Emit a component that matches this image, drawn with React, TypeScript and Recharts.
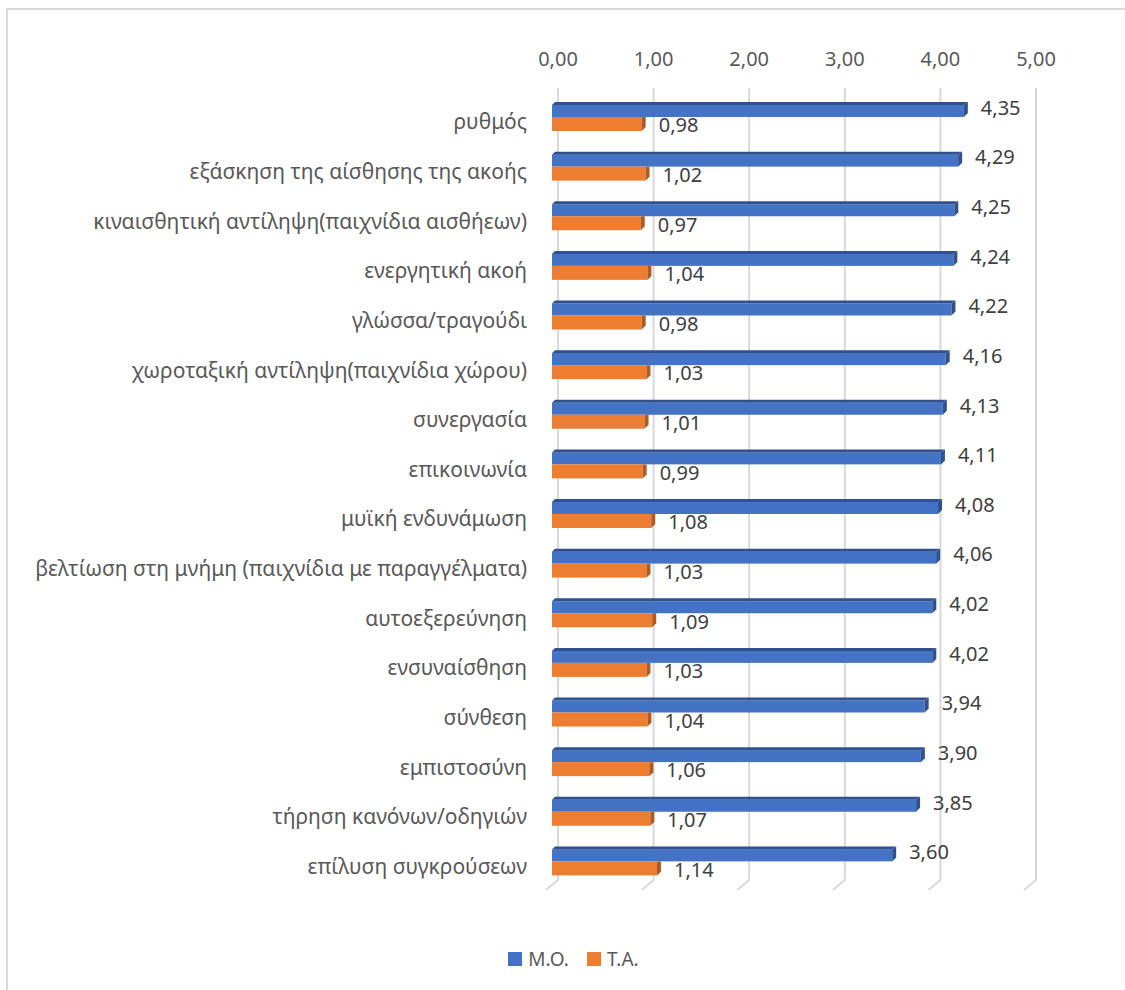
import { BarChart, Bar, XAxis, YAxis, CartesianGrid, Legend, LabelList } from "recharts";

const categories = [
  "ρυθμός",
  "εξάσκηση της αίσθησης της ακοής",
  "κιναισθητική αντίληψη(παιχνίδια αισθήεων)",
  "ενεργητική ακοή",
  "γλώσσα/τραγούδι",
  "χωροταξική αντίληψη(παιχνίδια χώρου)",
  "συνεργασία",
  "επικοινωνία",
  "μυϊκή ενδυνάμωση",
  "βελτίωση στη μνήμη (παιχνίδια με παραγγέλματα)",
  "αυτοεξερεύνηση",
  "ενσυναίσθηση",
  "σύνθεση",
  "εμπιστοσύνη",
  "τήρηση κανόνων/οδηγιών",
  "επίλυση συγκρούσεων",
];

const meanValues = [4.35, 4.29, 4.25, 4.24, 4.22, 4.16, 4.13, 4.11, 4.08, 4.06, 4.02, 4.02, 3.94, 3.9, 3.85, 3.6];
const sdValues = [0.98, 1.02, 0.97, 1.04, 0.98, 1.03, 1.01, 0.99, 1.08, 1.03, 1.09, 1.03, 1.04, 1.06, 1.07, 1.14];
const xTicks = [0, 1, 2, 3, 4, 5];

const data = categories.map((name, i) => ({ name, mo: meanValues[i], ta: sdValues[i] }));

const FONT = "'Noto Sans', sans-serif";
const fmt = (v: number) => v.toFixed(2).replace(".", ",");

function Box3D(props: any) {
  const { x, y, width, height, fill, side, top } = props;
  if (width <= 0) return null;
  const d = 4;
  const t = top ? 3 : 0;
  return (
    <g>
      <rect x={x} y={y + t} width={width - d} height={height - t} fill={fill} />
      {top && (
        <polygon
          points={`${x},${y + t} ${x + t},${y} ${x + width},${y} ${x + width - d},${y + t}`}
          fill={side}
        />
      )}
      <polygon
        points={`${x + width - d},${y + t} ${x + width},${y} ${x + width},${y + height - d} ${x + width - d},${y + height}`}
        fill={side}
      />
    </g>
  );
}

const valueLabel = (dy: number) => (props: any) => {
  const { x, y, width, height, value } = props;
  return (
    <text
      x={x + width + 13}
      y={y + height / 2 + dy}
      dominantBaseline="middle"
      fontFamily={FONT}
      fontSize={20}
      fill="#404040"
    >
      {fmt(value)}
    </text>
  );
};

function CategoryTick(props: any) {
  const { x, y, payload } = props;
  return (
    <text x={x} y={y + 7} textAnchor="end" dominantBaseline="middle" fontFamily={FONT} fontSize={21} fill="#595959">
      {payload.value}
    </text>
  );
}

function ValueTick(props: any) {
  const { x, y, payload } = props;
  return (
    <text x={x + 6} y={y} textAnchor="middle" fontFamily={FONT} fontSize={20} fill="#595959">
      {fmt(payload.value)}
    </text>
  );
}

function GridLine(props: any) {
  const { x1, y1, y2 } = props;
  const x = x1 + 6;
  return (
    <polyline
      points={`${x},${y1 - 4} ${x},${y2 - 6} ${x - 12},${y2 + 4}`}
      fill="none"
      stroke="#d9d9d9"
      strokeWidth={2}
    />
  );
}

function LegendContent() {
  const items = [
    { label: "M.O.", color: "#4472C4" },
    { label: "T.A.", color: "#ED7D31" },
  ];
  return (
    <div style={{ display: "flex", justifyContent: "center", gap: 18, fontFamily: FONT, fontSize: 19, color: "#595959", paddingLeft: 22 }}>
      {items.map((it) => (
        <div key={it.label} style={{ display: "flex", alignItems: "center", gap: 6 }}>
          <span style={{ display: "inline-block", width: 14, height: 14, background: it.color }} />
          <span>{it.label}</span>
        </div>
      ))}
    </div>
  );
}

export default function App() {
  return (
    <div style={{ position: "absolute", left: 0, top: 0, width: 1125, height: 990, background: "#fff", overflow: "hidden" }}>
      <div
        style={{
          position: "absolute",
          left: 6,
          top: 8,
          width: 1200,
          height: 1100,
          borderLeft: "2px solid #d9d9d9",
          borderTop: "2px solid #d9d9d9",
        }}
      />
      <BarChart
        width={1125}
        height={990}
        data={data}
        layout="vertical"
        margin={{ top: 52, right: 95, bottom: 78, left: 0 }}
        barCategoryGap={10}
        barGap={0}
        style={{ position: "absolute", left: 0, top: 0 }}
      >
        <CartesianGrid horizontal={false} vertical={<GridLine />} />
        <XAxis
          type="number"
          orientation="top"
          domain={[0, 5]}
          ticks={xTicks}
          axisLine={false}
          tickLine={false}
          tickSize={0}
          tickMargin={26}
          height={40}
          tick={<ValueTick />}
        />
        <YAxis
          type="category"
          dataKey="name"
          width={552}
          axisLine={false}
          tickLine={false}
          tickSize={0}
          tickMargin={25}
          interval={0}
          tick={<CategoryTick />}
        />
        <Legend
          verticalAlign="bottom"
          content={<LegendContent />}
          wrapperStyle={{ bottom: 18, left: 0, width: 1125 }}
        />
        <Bar
          dataKey="mo"
          name="M.O."
          fill="#4472C4"
          barSize={15}
          isAnimationActive={false}
          shape={(p: any) => <Box3D {...p} fill="#4472C4" side="#2F528F" top />}
        >
          <LabelList dataKey="mo" content={valueLabel(0)} />
        </Bar>
        <Bar
          dataKey="ta"
          name="T.A."
          fill="#ED7D31"
          barSize={14}
          isAnimationActive={false}
          shape={(p: any) => <Box3D {...p} fill="#ED7D31" side="#AE5A21" />}
        >
          <LabelList dataKey="ta" content={valueLabel(3)} />
        </Bar>
      </BarChart>
    </div>
  );
}
